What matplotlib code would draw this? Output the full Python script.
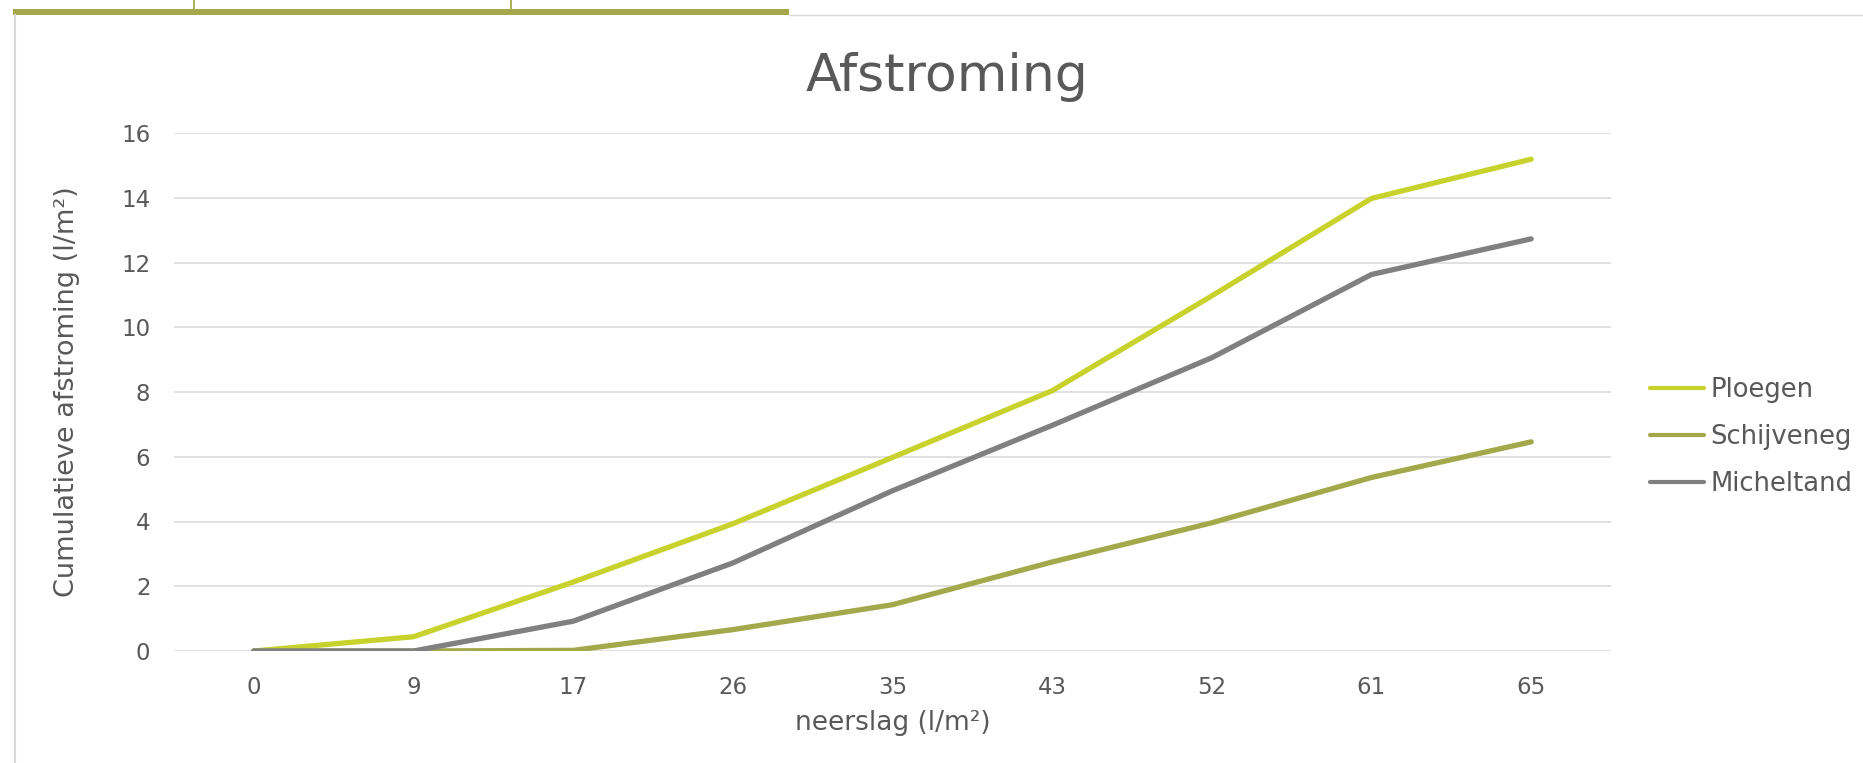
import matplotlib
matplotlib.use("Agg")
import matplotlib.pyplot as plt
from matplotlib.lines import Line2D
from matplotlib.patches import Rectangle

# ---- data ----
neerslag = ["0", "9", "17", "26", "35", "43", "52", "61", "65"]
ploegen = [0.0, 0.44, 2.13, 3.93, 5.98, 8.04, 10.97, 13.98, 15.19]
schijveneg = [0.0, 0.0, 0.02, 0.66, 1.43, 2.75, 3.96, 5.36, 6.46]
micheltand = [0.0, 0.0, 0.92, 2.72, 4.95, 6.97, 9.06, 11.63, 12.73]
series_names = ["Ploegen", "Schijveneg", "Micheltand"]
y_ticks = [0, 2, 4, 6, 8, 10, 12, 14, 16]

TXT = "#595959"
COLORS = ["#c8d22c", "#a3a84a", "#808080"]
W, H = 1863, 763

fig = plt.figure(figsize=(W / 100, H / 100), dpi=100)
fig.patch.set_facecolor("white")

def fx(px):
    return px / W
def fy(py):
    return 1 - py / H

# ---- decoration at top / left ----
fig.add_artist(Rectangle((fx(13), fy(14.8)), fx(789) - fx(13), fy(9) - fy(14.8),
                         transform=fig.transFigure, color="#a5a84a", lw=0))
for xv in (194, 511):
    fig.add_artist(Line2D([fx(xv), fx(xv)], [fy(0), fy(9)], transform=fig.transFigure,
                          color="#a5a84a", lw=1.3))
fig.add_artist(Line2D([fx(789), fx(1863)], [fy(15.2), fy(15.2)], transform=fig.transFigure,
                      color="#d9d9d9", lw=1.0))
fig.add_artist(Line2D([fx(15), fx(15)], [fy(14.8), fy(763)], transform=fig.transFigure,
                      color="#d9d9d9", lw=1.5))

# ---- axes ----
left, right = 174, 1611
top, bottom = 133, 651
ax = fig.add_axes([fx(left), fy(bottom), fx(right) - fx(left), fy(top) - fy(bottom)])

x = list(range(len(neerslag)))
for name, vals, c in zip(series_names, [ploegen, schijveneg, micheltand], COLORS):
    ax.plot(x, vals, color=c, lw=3.8, solid_capstyle="round", solid_joinstyle="round",
            label=name, zorder=3)

ax.set_xlim(-0.5, len(neerslag) - 0.5)
ax.set_ylim(0, 16)
ax.set_yticks(y_ticks)
ax.set_xticks(x)
ax.set_xticklabels(neerslag)
ax.grid(axis="y", color="#d9d9d9", lw=1.1, zorder=0)
ax.set_axisbelow(True)
for s in ax.spines.values():
    s.set_visible(False)
ax.tick_params(axis="both", length=0, colors=TXT, labelsize=16.5)
ax.tick_params(axis="y", pad=17)
ax.tick_params(axis="x", pad=18)

ax.set_xlabel("neerslag (l/m²)", fontsize=19, color=TXT)
ax.xaxis.label.set_va("center")
ax.xaxis.set_label_coords(0.5, (fy(723) - fy(bottom)) / (fy(top) - fy(bottom)))
ax.set_ylabel("Cumulatieve afstroming (l/m²)", fontsize=19.5, color=TXT)
ax.yaxis.label.set_va("center")
ax.yaxis.set_label_coords((fx(67) - fx(left)) / (fx(right) - fx(left)), 0.5)

fig.text(fx(947), fy(91), "Afstroming", fontsize=37.5, color=TXT, ha="center", va="baseline")

leg = ax.legend(loc="center left", bbox_to_anchor=(fx(1650), fy(437)),
                bbox_transform=fig.transFigure, frameon=False, fontsize=18.6,
                handlelength=2.08, handletextpad=0.25, labelspacing=0.8,
                borderpad=0, borderaxespad=0)
for t in leg.get_texts():
    t.set_color(TXT)
for h in leg.get_lines():
    h.set_linewidth(3.0)
    h.set_solid_capstyle("round")

fig.savefig("out.png", dpi=100)
